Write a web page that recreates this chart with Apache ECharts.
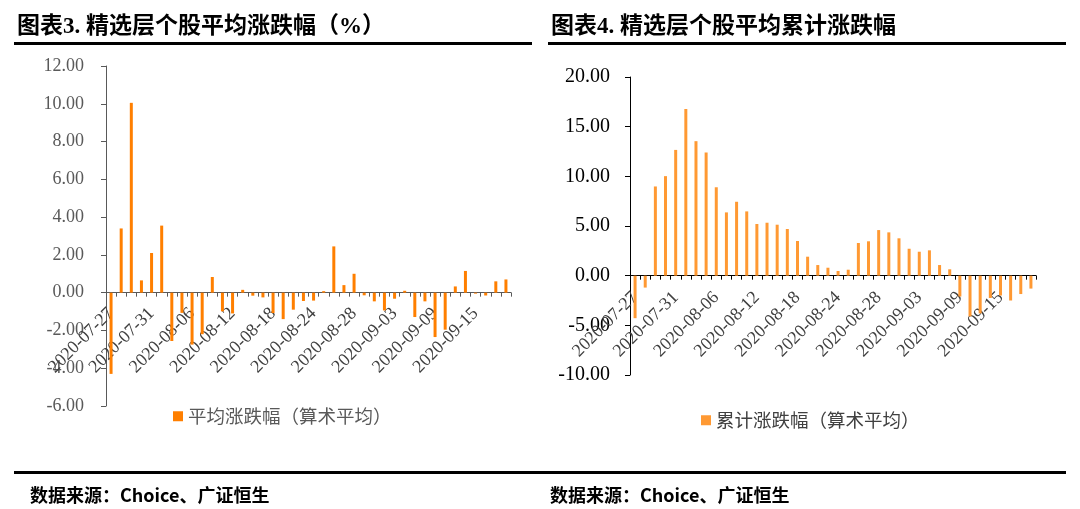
<!DOCTYPE html>
<html>
<head>
<meta charset="utf-8">
<script src="https://cdn.jsdelivr.net/npm/echarts@6/dist/echarts.min.js"></script>
<style>
html,body{margin:0;padding:0;background:#fff;}
#chart{width:1080px;height:509px;}
</style>
</head>
<body>
<div id="chart"></div>
<script>
var dates = ['2020-07-27','2020-07-28','2020-07-29','2020-07-30','2020-07-31',
  '2020-08-03','2020-08-04','2020-08-05','2020-08-06','2020-08-07',
  '2020-08-10','2020-08-11','2020-08-12','2020-08-13','2020-08-14',
  '2020-08-17','2020-08-18','2020-08-19','2020-08-20','2020-08-21',
  '2020-08-24','2020-08-25','2020-08-26','2020-08-27','2020-08-28',
  '2020-08-31','2020-09-01','2020-09-02','2020-09-03','2020-09-04',
  '2020-09-07','2020-09-08','2020-09-09','2020-09-10','2020-09-11',
  '2020-09-14','2020-09-15','2020-09-16','2020-09-17','2020-09-18'];

var dailyChange = [-4.30, 3.40, 10.05, 0.65, 2.10, 3.55, -2.56, -1.07, -2.75, -2.20,
  0.83, -0.99, -1.10, 0.15, -0.16, -0.25, -1.08, -1.40, -0.90, -0.44,
  -0.42, 0.08, 2.45, 0.40, 1.00, -0.14, -0.46, -0.94, -0.32, 0.10,
  -1.29, -0.46, -2.35, -1.96, 0.33, 1.15, -0.05, -0.15, 0.60, 0.70];

var cumulativeChange = [-4.28, -1.20, 8.98, 10.02, 12.66, 16.78, 13.54, 12.40, 8.90, 6.37,
  7.44, 6.47, 5.20, 5.33, 5.13, 4.70, 3.49, 1.91, 1.07, 0.80,
  0.47, 0.60, 3.29, 3.46, 4.59, 4.36, 3.76, 2.71, 2.41, 2.55,
  1.07, 0.64, -2.10, -4.10, -3.80, -2.25, -2.00, -2.50, -1.85, -1.30];

var leftTicks = {min: -6, max: 12, interval: 2};
var rightTicks = {min: -10, max: 20, interval: 5};

var seriesNames = ['平均涨跌幅（算术平均）', '累计涨跌幅（算术平均）'];
var titles = ['图表3. 精选层个股平均涨跌幅（%）', '图表4. 精选层个股平均累计涨跌幅'];
var sourceText = '数据来源：Choice、广证恒生';

var serifFont = '"Liberation Serif", "Noto Sans CJK SC", serif';
var cjkFont = '"Noto Sans CJK SC", sans-serif';

var grids = [
  {left: 106, top: 66, width: 405, height: 340},
  {left: 630, top: 77, width: 406, height: 298}
];
// distance of the zero line above the grid bottom, from the value range
function zeroOffset(g, t){ return -g.height * (0 - t.min) / (t.max - t.min); }

var chart = echarts.init(document.getElementById('chart'), null, {renderer: 'canvas'});

function fmt(v){ return v.toFixed(2); }

chart.setOption({
  animation: false,
  backgroundColor: '#fff',
  title: [
    {text: titles[0], left: 12, top: 11, textStyle: {fontFamily: '"Liberation Serif", "Noto Sans CJK SC"', fontWeight: 'bold', fontSize: 23, color: '#000'}},
    {text: titles[1], left: 546, top: 11, textStyle: {fontFamily: '"Liberation Serif", "Noto Sans CJK SC"', fontWeight: 'bold', fontSize: 23, color: '#000'}},
    {text: sourceText, left: 25, top: 481, textStyle: {fontFamily: cjkFont, fontWeight: 'bold', fontSize: 18, color: '#000'}},
    {text: sourceText, left: 545, top: 481, textStyle: {fontFamily: cjkFont, fontWeight: 'bold', fontSize: 18, color: '#000'}}
  ],
  graphic: [
    {type: 'rect', shape: {x: 14, y: 42, width: 518, height: 3}, style: {fill: '#000'}},
    {type: 'rect', shape: {x: 548, y: 42, width: 518, height: 3}, style: {fill: '#000'}},
    {type: 'rect', shape: {x: 14, y: 471, width: 1052, height: 3}, style: {fill: '#000'}}
  ],
  legend: [
    {data: [seriesNames[0]], left: 168, top: 402, itemWidth: 10, itemHeight: 10, itemGap: 6,
     icon: 'rect', textStyle: {fontFamily: cjkFont, fontSize: 18.5, color: '#595959'}},
    {data: [seriesNames[1]], left: 696, top: 406, itemWidth: 10, itemHeight: 10, itemGap: 6,
     icon: 'rect', textStyle: {fontFamily: cjkFont, fontSize: 18.5, color: '#404040'}}
  ],
  grid: [
    {left: grids[0].left, top: grids[0].top, width: grids[0].width, height: grids[0].height, containLabel: false},
    {left: grids[1].left, top: grids[1].top, width: grids[1].width, height: grids[1].height, containLabel: false}
  ],
  xAxis: [
    {type: 'category', gridIndex: 0, data: dates, boundaryGap: true, position: 'bottom',
     offset: zeroOffset(grids[0], leftTicks),
     axisLine: {onZero: false, lineStyle: {color: '#595959', width: 1}},
     axisTick: {show: true, interval: 0, length: 4, lineStyle: {color: '#595959'}},
     axisLabel: {interval: 3, rotate: 45, margin: 18, fontFamily: serifFont, fontSize: 18, color: '#404040'},
     splitLine: {show: false}},
    {type: 'category', gridIndex: 1, data: dates, boundaryGap: true, position: 'bottom',
     offset: zeroOffset(grids[1], rightTicks),
     axisLine: {onZero: false, lineStyle: {color: '#000', width: 1}},
     axisTick: {show: true, interval: 0, length: 4, lineStyle: {color: '#000'}},
     axisLabel: {interval: 3, rotate: 45, margin: 19, fontFamily: serifFont, fontSize: 18, color: '#404040'},
     splitLine: {show: false}}
  ],
  yAxis: [
    {type: 'value', gridIndex: 0, min: leftTicks.min, max: leftTicks.max, interval: leftTicks.interval,
     axisLine: {show: true, lineStyle: {color: '#595959'}},
     axisTick: {show: true, length: 5, lineStyle: {color: '#595959'}},
     axisLabel: {formatter: fmt, margin: 22, fontFamily: serifFont, fontSize: 18, color: '#595959'},
     splitLine: {show: false}},
    {type: 'value', gridIndex: 1, min: rightTicks.min, max: rightTicks.max, interval: rightTicks.interval,
     axisLine: {show: true, lineStyle: {color: '#000'}},
     axisTick: {show: true, length: 5, lineStyle: {color: '#000'}},
     axisLabel: {formatter: fmt, margin: 20, fontFamily: serifFont, fontSize: 20, color: '#000'},
     splitLine: {show: false}}
  ],
  series: [
    {name: seriesNames[0], type: 'bar', xAxisIndex: 0, yAxisIndex: 0, data: dailyChange,
     barWidth: 3, itemStyle: {color: '#FF7F00'}},
    {name: seriesNames[1], type: 'bar', xAxisIndex: 1, yAxisIndex: 1, data: cumulativeChange,
     barWidth: 3, itemStyle: {color: '#FF9933'}}
  ]
});
</script>
</body>
</html>
